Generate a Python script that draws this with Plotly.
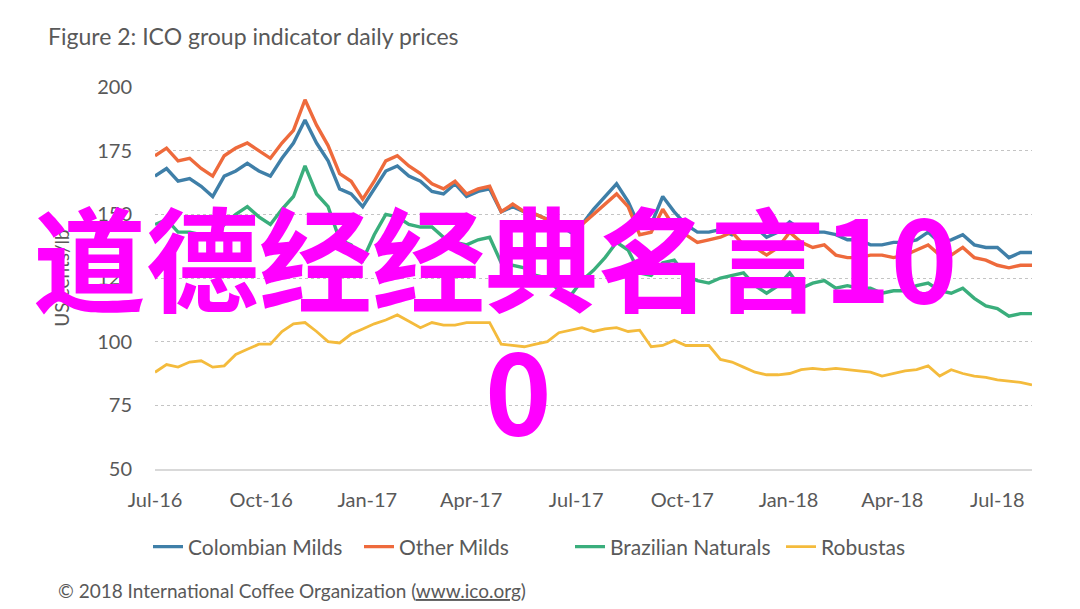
import pandas as pd
import plotly.graph_objects as go

# ---- data (one value every 10 days from 1 Jul 2016) ----
dates = pd.date_range("2016-07-01", periods=77, freq="10D")

colombian_milds = [165, 168, 163, 164, 161, 157, 165, 167, 170, 167,
                   165, 172, 178, 187, 178, 171, 160, 158, 153, 160,
                   167, 169, 165, 163, 159, 158, 162, 157, 159, 160,
                   151, 153, 151, 150, 148, 146, 143, 146, 152, 157,
                   162, 155, 145, 146, 157, 151, 146, 143, 143, 144,
                   142, 145, 145, 141, 143, 147, 144, 143, 143, 142,
                   140, 140, 138, 138, 139, 139, 140, 143, 139, 140,
                   142, 138, 137, 137, 133, 135, 135]

other_milds = [173, 176, 171, 172, 168, 165, 173, 176, 178, 175,
               172, 178, 183, 195, 185, 177, 166, 163, 156, 163,
               171, 173, 169, 166, 162, 160, 163, 158, 160, 161,
               151, 154, 151, 150, 148, 146, 144, 146, 150, 154,
               158, 153, 142, 143, 152, 145, 142, 139, 140, 141,
               143, 138, 137, 134, 137, 143, 139, 137, 138, 134,
               133, 133, 134, 134, 133, 134, 136, 138, 134, 134,
               137, 133, 132, 130, 129, 130, 130]

brazilian_naturals = [146, 148, 143, 143, 142, 141, 146, 150, 153, 149,
                      146, 152, 157, 169, 158, 153, 140, 138, 132, 142,
                      150, 149, 146, 145, 145, 141, 139, 138, 140, 141,
                      131, 130, 129, 126, 125, 120, 118, 124, 128, 133,
                      139, 136, 127, 126, 131, 132, 126, 124, 123, 125,
                      126, 127, 122, 119, 122, 127, 121, 123, 124, 121,
                      122, 121, 121, 119, 120, 120, 122, 123, 120, 119,
                      121, 117, 114, 113, 110, 111, 111]

robustas = [88, 91, 90, 92, 92.5, 90, 90.5, 95, 97, 99,
            99, 104, 107, 107.5, 104, 100, 99.5, 103, 105, 107,
            108.5, 110.5, 108, 105.5, 107.5, 106.5, 106.5, 107.5, 107.5, 107.5,
            99, 98.5, 98, 99, 100, 103.5, 104.5, 105.5, 104, 105,
            105.5, 104, 104.5, 98, 98.5, 100.5, 98.5, 98.5, 98.5, 93,
            92, 90, 88, 87, 87, 87.5, 89, 89.5, 89, 89.5,
            89, 88.5, 88, 86.5, 87.5, 88.5, 89, 90.5, 86.5, 89,
            87.5, 86.5, 86, 85, 84.5, 84, 83]

series_names = ["Colombian Milds", "Other Milds", "Brazilian Naturals", "Robustas"]
series_values = [colombian_milds, other_milds, brazilian_naturals, robustas]
series_colors = ["#3f7fa8", "#ee6a3c", "#3aae7c", "#f4bb3c"]
series_widths = [3.4, 3.4, 3.4, 2.8]

y_ticks = [50, 75, 100, 125, 150, 175, 200]

title_text = "Figure 2: ICO group indicator daily prices"
y_title = "US cents/lb"
footer_text = "© 2018 International Coffee Organization (<u>www.ico.org</u>)"
overlay_line1 = "道德经经典名言10"
overlay_line2 = "0"

grey = "#595959"
base_font = "Lato, 'Open Sans', sans-serif"

W, H = 1080, 609
ML, MR, MT, MB = 155, 48, 87, 140
PW, PH = W - ML - MR, H - MT - MB


def px(x):
    return (x - ML) / PW


def py(y):
    return (H - MB - y) / PH


fig = go.Figure()
for name, vals, col, w in zip(series_names, series_values, series_colors, series_widths):
    fig.add_trace(go.Scatter(x=dates, y=vals, name=name, mode="lines",
                             line=dict(color=col, width=w)))

fig.update_layout(
    width=W, height=H,
    margin=dict(l=ML, r=MR, t=MT, b=MB, autoexpand=False),
    paper_bgcolor="white", plot_bgcolor="white",
    font=dict(family=base_font, color=grey, size=20),
    showlegend=True,
    legend=dict(orientation="h", xref="container", yref="container",
                x=148 / W, xanchor="left", y=1 - 547 / H, yanchor="middle",
                font=dict(size=21, color=grey), itemwidth=30,
                entrywidth=166, entrywidthmode="pixels",
                tracegroupgap=0),
    annotations=[
        dict(text=title_text, xref="paper", yref="paper",
             x=px(46), y=py(36), xanchor="left", yanchor="middle",
             showarrow=False, font=dict(size=23, color=grey, family=base_font)),
        dict(text=footer_text, xref="paper", yref="paper",
             x=px(56), y=py(590), xanchor="left", yanchor="middle",
             showarrow=False, font=dict(size=19, color=grey, family=base_font)),
        dict(text=overlay_line1, xref="paper", yref="paper",
             x=px(495), y=py(254), xanchor="center", yanchor="middle",
             showarrow=False,
             font=dict(size=113, color="#ff00ff", family="'Noto Sans CJK SC'", weight="bold")),
        dict(text=overlay_line2, xref="paper", yref="paper",
             x=px(518), y=py(386), xanchor="center", yanchor="middle",
             showarrow=False,
             font=dict(size=113, color="#ff00ff", family="'Noto Sans CJK SC'", weight="bold")),
    ],
)

fig.update_xaxes(
    type="date", range=["2016-07-01", "2018-07-31"],
    tick0="2016-07-01", dtick="M3", tickformat="%b-%y",
    showgrid=False, showline=True, linecolor="#d9d9d9", linewidth=1.5,
    ticks="outside", ticklen=12, tickcolor="rgba(0,0,0,0)",
    tickfont=dict(size=20, color=grey), zeroline=False,
)
fig.update_yaxes(
    range=[50, 200], tickvals=y_ticks,
    showgrid=True, gridcolor="#c4c4c4", griddash="dot", gridwidth=1,
    ticks="outside", ticklen=18, tickcolor="rgba(0,0,0,0)",
    tickfont=dict(size=20, color=grey), zeroline=False,
    title=dict(text=y_title, font=dict(size=19, color=grey), standoff=22),
)

fig.write_html("out.html")
